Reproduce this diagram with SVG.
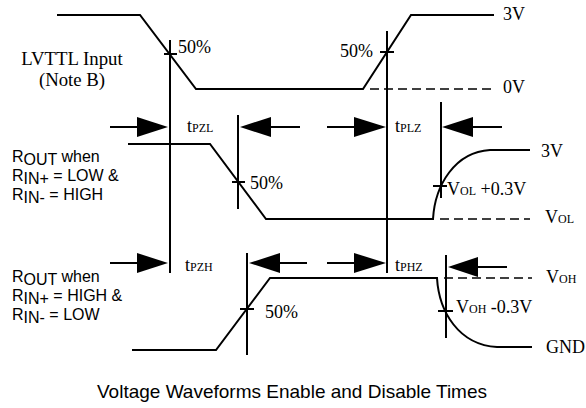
<svg xmlns="http://www.w3.org/2000/svg" width="586" height="408" viewBox="0 0 586 408">
<style>
.w{fill:none;stroke:#000;stroke-width:2}
.d{fill:none;stroke:#000;stroke-width:1.5;stroke-dasharray:9,5}
.ah{fill:#000;stroke:none}
.tm{font-family:"Liberation Serif","Times New Roman",serif;font-size:18px;fill:#000}
.ar{font-family:"Liberation Sans",Arial,sans-serif;font-size:16px;fill:#000}
.sb{font-size:12px}
</style>
<rect width="586" height="408" fill="#fff"/>
<g id="waveforms">
<path class="w" d="M57,15 H140 L196,89 H363 L411,15 H494"/>
<path class="d" d="M370,89 H494"/>
<path class="w" d="M128,144 H210 L266,219 H433 C435,185 455,152 490,150 H530"/>
<path class="d" d="M440,219 H530"/>
<path class="w" d="M132,350 H216 L270,278 H437 C439,312 459,345 497,347 H532"/>
<path class="d" d="M444,278 H532"/>
</g>
<g id="connectors">
<path class="w" d="M170,40 V273 M238,115 V209 M387,31 V273 M441,102 V198 M247,253 V355 M446,255 V338"/>
<path class="w" d="M164,54 H177 M380,52 H394 M232,182 H245 M240,309 H254 M433,186 H447 M438,311 H453"/>
<path class="w" d="M110,127 H140 M271,127 H300 M327,127 H356 M473,127 H502 M110,263 H140 M280,263 H307 M327,263 H356 M478,267 H507"/>
<polygon class="ah" points="137,117 137,137 168,127"/>
<polygon class="ah" points="271,117 271,137 240,127"/>
<polygon class="ah" points="354,117 354,137 386,127"/>
<polygon class="ah" points="473,117 473,137 442,127"/>
<polygon class="ah" points="137,253 137,273 168,263"/>
<polygon class="ah" points="280,253 280,273 249,263"/>
<polygon class="ah" points="354,253 354,273 386,263"/>
<polygon class="ah" points="478,257 478,277 448,267"/>
</g>
<g id="labels">
<text class="tm" x="72" y="65" text-anchor="middle" style="font-size:18.8px">LVTTL Input</text>
<text class="tm" x="72" y="86" text-anchor="middle" style="font-size:18.8px">(Note B)</text>
<text class="tm" x="178" y="53">50%</text>
<text class="tm" x="373" y="57" text-anchor="end">50%</text>
<text class="tm" x="250" y="189">50%</text>
<text class="tm" x="265" y="318">50%</text>
<text class="tm" x="503" y="20">3V</text>
<text class="tm" x="503" y="93">0V</text>
<text class="tm" x="541" y="157">3V</text>
<text class="tm" x="545" y="223">V<tspan class="sb">OL</tspan></text>
<text class="tm" x="546" y="283">V<tspan class="sb">OH</tspan></text>
<text class="tm" x="546" y="353">GND</text>
<text class="tm" x="447" y="195">V<tspan class="sb">OL</tspan> +0.3V</text>
<text class="tm" x="456" y="313">V<tspan class="sb">OH</tspan> -0.3V</text>
<text class="tm" x="187" y="132">t<tspan class="sb">PZL</tspan></text>
<text class="tm" x="395" y="132">t<tspan class="sb">PLZ</tspan></text>
<text class="tm" x="185" y="271">t<tspan class="sb">PZH</tspan></text>
<text class="tm" x="395" y="271">t<tspan class="sb">PHZ</tspan></text>
<text class="ar" x="12" y="162">R<tspan dy="3">OUT</tspan><tspan dy="-3"> when</tspan></text>
<text class="ar" x="12" y="181">R<tspan dy="3">IN+</tspan><tspan dy="-3"> = LOW &amp;</tspan></text>
<text class="ar" x="12" y="200">R<tspan dy="3">IN-</tspan><tspan dy="-3"> = HIGH</tspan></text>
<text class="ar" x="12" y="282">R<tspan dy="3">OUT</tspan><tspan dy="-3"> when</tspan></text>
<text class="ar" x="12" y="301">R<tspan dy="3">IN+</tspan><tspan dy="-3"> = HIGH &amp;</tspan></text>
<text class="ar" x="12" y="320">R<tspan dy="3">IN-</tspan><tspan dy="-3"> = LOW</tspan></text>
<text class="ar" x="292" y="398" text-anchor="middle" style="font-size:19px">Voltage Waveforms Enable and Disable Times</text>
</g>
</svg>
